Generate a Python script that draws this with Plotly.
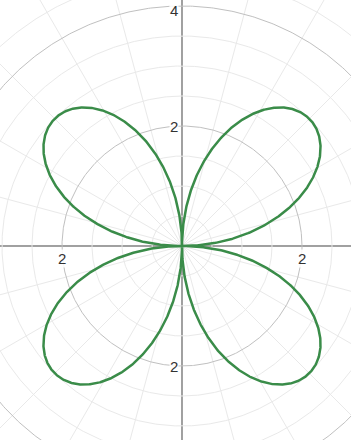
import numpy as np
import plotly.graph_objects as go

# Rose curve r = AMPLITUDE * sin(PETAL_FREQ * theta)
AMPLITUDE = 3
PETAL_FREQ = 2
CURVE_COLOR = "#3a8c49"

# Polar grid definition
MINOR_RADII = [0.5, 1.0, 1.5, 2.5, 3.0, 3.5, 4.5]
MAJOR_RADII = [2.0, 4.0]
SPOKE_STEP_DEG = 15

# Axis labels (value, text)
X_LABELS = [(-2, "2"), (2, "2")]
Y_LABELS = [(2, "2"), (-2, "2")]
TOP_LABEL = (4, "4")

# View window (data units)
X_RANGE = [-182 / 60, 169 / 60]
Y_RANGE = [-194 / 60, 246 / 60]


def circle_path(radii):
    t = np.linspace(0, 2 * np.pi, 721)
    xs, ys = [], []
    for r in radii:
        xs += list(r * np.cos(t)) + [None]
        ys += list(r * np.sin(t)) + [None]
    return xs, ys


def spoke_path(step_deg, r_max=6):
    xs, ys = [], []
    for a in np.arange(0, 180, step_deg):
        rad = np.deg2rad(a)
        xs += [-r_max * np.cos(rad), r_max * np.cos(rad), None]
        ys += [-r_max * np.sin(rad), r_max * np.sin(rad), None]
    return xs, ys


fig = go.Figure()

sx, sy = spoke_path(SPOKE_STEP_DEG)
fig.add_trace(go.Scatter(x=sx, y=sy, mode="lines",
                         line=dict(color="#e9e9e9", width=1),
                         hoverinfo="skip", showlegend=False))
mx, my = circle_path(MINOR_RADII)
fig.add_trace(go.Scatter(x=mx, y=my, mode="lines",
                         line=dict(color="#e9e9e9", width=1),
                         hoverinfo="skip", showlegend=False))
Mx, My = circle_path(MAJOR_RADII)
fig.add_trace(go.Scatter(x=Mx, y=My, mode="lines",
                         line=dict(color="#c0c0c0", width=1),
                         hoverinfo="skip", showlegend=False))

theta = np.linspace(0, 2 * np.pi, 2001)
r = AMPLITUDE * np.sin(PETAL_FREQ * theta)
fig.add_trace(go.Scatter(x=r * np.cos(theta), y=r * np.sin(theta), mode="lines",
                         line=dict(color=CURVE_COLOR, width=2.5),
                         hoverinfo="skip", showlegend=False))

label_font = dict(family="Liberation Sans, Arial", size=15, color="#333")
annotations = []
for v, txt in X_LABELS:
    annotations.append(dict(x=v, y=0, text=txt, showarrow=False,
                            xanchor="center", yanchor="top", yshift=-3,
                            font=label_font,
                            bgcolor="rgba(255,255,255,0.85)", borderpad=0))
for v, txt in Y_LABELS:
    annotations.append(dict(x=0, y=v, text=txt, showarrow=False,
                            xanchor="right", yanchor="middle", xshift=-3,
                            font=label_font,
                            bgcolor="rgba(255,255,255,0.85)", borderpad=0))
# the r = 4 tick sits right at the top edge; keep it inside the frame
annotations.append(dict(x=0, y=1, xref="x", yref="paper", text=TOP_LABEL[1],
                        showarrow=False, xanchor="right", yanchor="top",
                        xshift=-3, yshift=-1, font=label_font,
                        bgcolor="rgba(255,255,255,0.85)", borderpad=0))

axis_common = dict(showgrid=False, showticklabels=False, ticks="",
                   zeroline=True, zerolinecolor="#585858", zerolinewidth=2,
                   showline=False, fixedrange=True)

fig.update_layout(
    width=351, height=440,
    margin=dict(l=0, r=0, t=0, b=0),
    paper_bgcolor="white", plot_bgcolor="white",
    xaxis=dict(range=X_RANGE, **axis_common),
    yaxis=dict(range=Y_RANGE, **axis_common),
    annotations=annotations,
)

fig.write_html("out.html")
